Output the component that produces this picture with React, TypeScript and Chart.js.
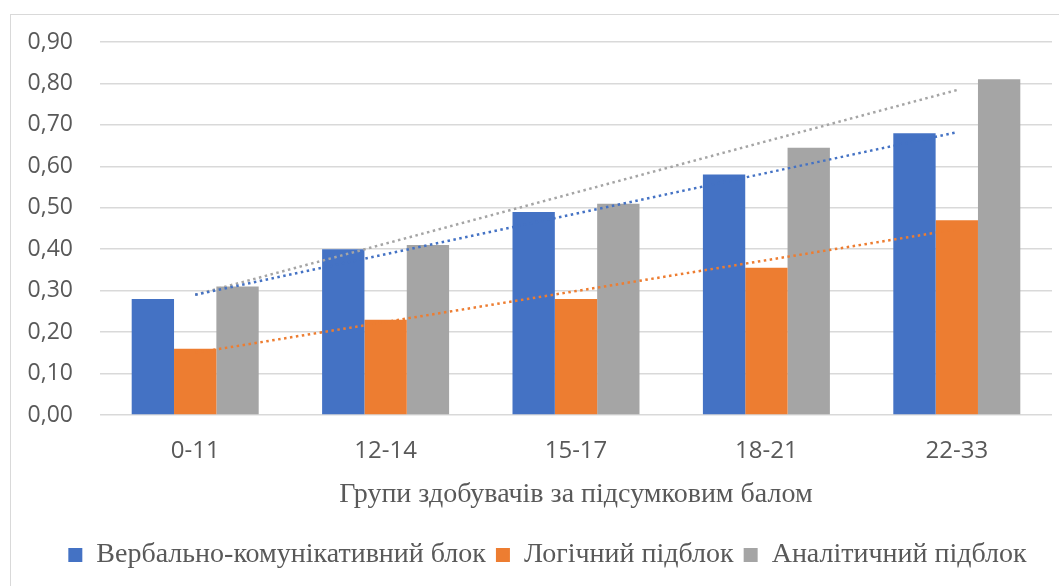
import React, { useEffect, useRef } from "react";
import { Chart, registerables } from "chart.js";

Chart.register(...registerables);

const categories = ["0-11", "12-14", "15-17", "18-21", "22-33"];
const verbal = [0.28, 0.40, 0.49, 0.58, 0.68];
const logical = [0.16, 0.23, 0.28, 0.355, 0.47];
const analytical = [0.31, 0.41, 0.51, 0.645, 0.81];
const seriesNames = ["Вербально-комунікативний блок", "Логічний підблок", "Аналітичний підблок"];
const axisTitle = "Групи здобувачів за підсумковим балом";

const BLUE = "#4472C4";
const ORANGE = "#ED7D31";
const GRAY = "#A5A5A5";
const TEXT = "#595959";
const SERIF = "'Liberation Serif', 'Times New Roman', serif";
const SANS = "'Open Sans', sans-serif";

// Linear trendline (least squares), as Excel's linear trendline
function trend(values: number[]): number[] {
  const n = values.length;
  const xs = values.map((_, i) => i + 1);
  const mx = xs.reduce((a, b) => a + b, 0) / n;
  const my = values.reduce((a, b) => a + b, 0) / n;
  let num = 0, den = 0;
  for (let i = 0; i < n; i++) {
    num += (xs[i] - mx) * (values[i] - my);
    den += (xs[i] - mx) * (xs[i] - mx);
  }
  const b = num / den;
  const a = my - b * mx;
  return xs.map((x) => a + b * x);
}

// Nudge the legend to the right, as in the reference
const legendShift = {
  id: "legendShift",
  afterLayout(chart: any) {
    if (chart.legend) {
      chart.legend.left += 16;
      chart.legend.right += 16;
    }
  },
};

export default function App() {
  const ref = useRef<HTMLCanvasElement>(null);
  useEffect(() => {
    if (!ref.current) return;
    const trendStyle = (color: string) => ({
      type: "line" as const,
      borderColor: color,
      borderWidth: 2.5,
      borderDash: [2.5, 3.5],
      pointRadius: 0,
      fill: false,
      order: 1,
      tension: 0,
    });
    const chart = new Chart(ref.current, {
      type: "bar",
      data: {
        labels: categories,
        datasets: [
          { label: seriesNames[0], data: verbal, backgroundColor: BLUE, order: 2 },
          { label: seriesNames[1], data: logical, backgroundColor: ORANGE, order: 2 },
          { label: seriesNames[2], data: analytical, backgroundColor: GRAY, order: 2 },
          { label: "trend1", data: trend(verbal), ...trendStyle(BLUE) } as any,
          { label: "trend2", data: trend(logical), ...trendStyle(ORANGE) } as any,
          { label: "trend3", data: trend(analytical), ...trendStyle(GRAY) } as any,
        ],
      },
      plugins: [legendShift],
      options: {
        responsive: false,
        animation: false,
        layout: { padding: { top: 27, right: 7, bottom: 7, left: 0 } },
        datasets: { bar: { categoryPercentage: 0.667, barPercentage: 1 } },
        plugins: {
          tooltip: { enabled: false },
          legend: {
            position: "bottom",
            labels: {
              filter: (item: any) => item.datasetIndex < 3,
              sort: (a: any, b: any) => a.datasetIndex - b.datasetIndex,
              boxWidth: 14,
              boxHeight: 14,
              padding: 10,
              color: TEXT,
              font: { family: SERIF, size: 28 },
            },
          },
        },
        scales: {
          x: {
            grid: { display: false, drawTicks: false },
            border: { display: false },
            ticks: { color: TEXT, padding: 22, font: { family: SANS, size: 24 } },
            title: {
              display: true,
              text: axisTitle,
              color: TEXT,
              padding: { top: 0, bottom: 20 },
              font: { family: SERIF, size: 28 },
            },
            afterFit: (s: any) => { s.height = 116; },
          },
          y: {
            min: 0,
            max: 0.9,
            grid: {
              color: "#D9D9D9",
              lineWidth: 1.5,
              drawTicks: true,
              tickLength: 27,
              tickColor: "rgba(0,0,0,0)",
            },
            border: { display: false },
            ticks: {
              stepSize: 0.1,
              color: TEXT,
              padding: 0,
              font: { family: SANS, size: 23 },
              callback: (v: any) => Number(v).toFixed(2).replace(".", ","),
            },
            afterFit: (s: any) => { s.width = 89; },
          },
        },
      },
    });
    return () => chart.destroy();
  }, []);
  return (
    <div
      style={{
        position: "absolute",
        left: 10,
        top: 14,
        width: 1060,
        height: 590,
        border: "1px solid #D9D9D9",
        boxSizing: "border-box",
        background: "#fff",
      }}
    >
      <canvas ref={ref} width={1048} height={571} style={{ display: "block" }} />
    </div>
  );
}
